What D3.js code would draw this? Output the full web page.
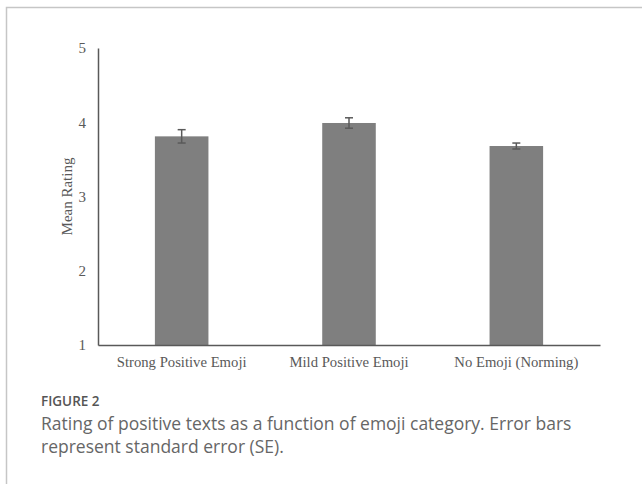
<!DOCTYPE html>
<html>
<head>
<meta charset="utf-8">
<script src="https://cdn.jsdelivr.net/npm/d3@7"></script>
<style>
  body { margin: 0; background: #fff; }
  svg { display: block; }
</style>
</head>
<body>
<svg id="chart"></svg>
<script>
// data
const categories = ["Strong Positive Emoji", "Mild Positive Emoji", "No Emoji (Norming)"];
const meanRatings = [3.81, 3.99, 3.68];
const stdErrors = [0.09, 0.07, 0.04];
const yTicks = [1, 2, 3, 4, 5];

const width = 642, height = 484;
const margin = { top: 48, right: 42, bottom: 139, left: 98 };

const svg = d3.select("#chart").attr("width", width).attr("height", height);

// light frame of the figure panel
svg.append("path")
  .attr("d", `M6.5,${height} V7.5 H${width}`)
  .attr("fill", "none")
  .attr("stroke", "#c6c6c6")
  .attr("stroke-width", 1.5);

const x = d3.scaleBand()
  .domain(categories)
  .range([margin.left, width - margin.right])
  .paddingInner(0.68)
  .paddingOuter(0.34);

const y = d3.scaleLinear()
  .domain([1, 5])
  .range([height - margin.bottom, margin.top]);

const rows = categories.map((c, i) => ({ cat: c, mean: meanRatings[i], se: stdErrors[i] }));

// bars
svg.append("g")
  .selectAll("rect")
  .data(rows)
  .join("rect")
  .attr("x", d => x(d.cat))
  .attr("y", d => y(d.mean))
  .attr("width", x.bandwidth())
  .attr("height", d => y(1) - y(d.mean))
  .attr("fill", "#7f7f7f");

// error bars
const eb = svg.append("g")
  .attr("stroke", "#5a5a5a")
  .attr("stroke-width", 1.5)
  .selectAll("g")
  .data(rows)
  .join("g")
  .attr("transform", d => `translate(${x(d.cat) + x.bandwidth() / 2},0)`);

eb.append("line")
  .attr("y1", d => y(d.mean + d.se))
  .attr("y2", d => y(d.mean - d.se));
eb.append("line")
  .attr("x1", -4).attr("x2", 4)
  .attr("y1", d => y(d.mean + d.se))
  .attr("y2", d => y(d.mean + d.se));
eb.append("line")
  .attr("x1", -4).attr("x2", 4)
  .attr("y1", d => y(d.mean - d.se))
  .attr("y2", d => y(d.mean - d.se));

const serif = "'Liberation Serif', 'Times New Roman', serif";

// y axis
const yAxis = svg.append("g")
  .attr("transform", `translate(${margin.left},0)`)
  .call(d3.axisLeft(y).tickValues(yTicks).tickFormat(d3.format("d")).tickSize(0).tickPadding(12));
yAxis.select(".domain").attr("stroke", "#595959").attr("stroke-width", 1.5);
yAxis.selectAll("text")
  .attr("font-family", serif)
  .attr("font-size", 15)
  .attr("fill", "#595959");

// x axis
const xAxis = svg.append("g")
  .attr("transform", `translate(0,${y(1)})`)
  .call(d3.axisBottom(x).tickSize(0).tickPadding(12));
xAxis.select(".domain").attr("stroke", "#595959").attr("stroke-width", 1.5);
xAxis.selectAll("text")
  .attr("font-family", serif)
  .attr("font-size", 14.7)
  .attr("fill", "#595959");

// axis title
svg.append("text")
  .attr("transform", `translate(67,${(y(1) + y(5)) / 2}) rotate(-90)`)
  .attr("text-anchor", "middle")
  .attr("dy", "0.35em")
  .attr("font-family", serif)
  .attr("font-size", 15)
  .attr("fill", "#595959")
  .text("Mean Rating");

// caption
svg.append("text")
  .attr("x", 41).attr("y", 406)
  .attr("font-family", "'Open Sans', sans-serif")
  .attr("font-weight", 600)
  .attr("font-size", 13.5)
  .attr("fill", "#555")
  .text("FIGURE 2");

const captionLines = [
  "Rating of positive texts as a function of emoji category. Error bars",
  "represent standard error (SE)."
];
svg.append("g")
  .selectAll("text")
  .data(captionLines)
  .join("text")
  .attr("x", 41)
  .attr("y", (d, i) => 430 + i * 23)
  .attr("font-family", "'Open Sans', sans-serif")
  .attr("font-size", 17.5)
  .attr("fill", "#666")
  .text(d => d);
</script>
</body>
</html>
